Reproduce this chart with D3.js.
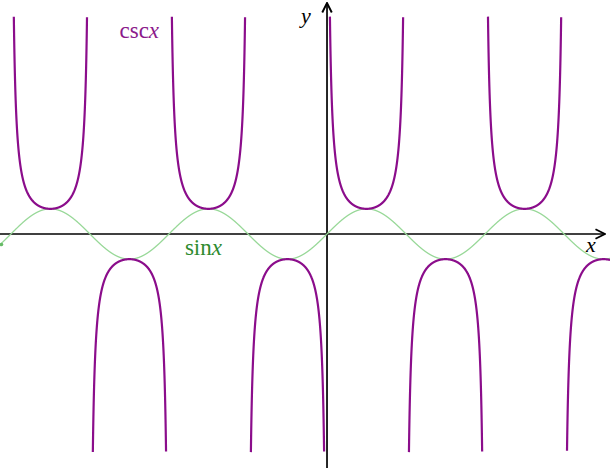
<!DOCTYPE html>
<html><head><meta charset="utf-8">
<script src="https://cdn.jsdelivr.net/npm/d3@7"></script>
<style>body{margin:0;background:#fff}svg{display:block}</style>
</head><body>
<script>
// Plot window (math units)
const xDomain = [-13.0, 11.25];
const yDomain = [-9.3, 9.3];
const cscDomain = [-4 * Math.PI, 11.25];
const cscLimit = [8.67];
const sampleCount = [30000];
const functions = ["sin", "csc"];
const labels = [
  {name: "csc", fx: -8.25, fy: 7.8},
  {name: "sin", fx: -5.65, fy: -0.83}
];

const W = 610, H = 468;
const x = d3.scaleLinear().domain(xDomain).range([0, W]);
const y = d3.scaleLinear().domain(yDomain).range([H, 0]);

const svg = d3.select("body").append("svg").attr("width", W).attr("height", H);
const defs = svg.append("defs");
defs.append("marker").attr("id","arr").attr("viewBox","0 0 10 10").attr("refX",9).attr("refY",5)
  .attr("markerWidth",7).attr("markerHeight",7).attr("orient","auto-start-reverse")
  .append("path").attr("d","M1,1 L9,5 L1,9").attr("fill","none").attr("stroke","#000").attr("stroke-width",1.6);

// sample points
const xs = d3.range(sampleCount[0] + 1).map(i => xDomain[0] + (xDomain[1] - xDomain[0]) * i / sampleCount[0]);
const sinPts = xs.map(v => [v, Math.sin(v)]);
const cscPts = xs.filter(v => v >= cscDomain[0] && v <= cscDomain[1]).map(v => [v, 1 / Math.sin(v)]);

const line = d3.line().x(d => x(d[0])).y(d => y(d[1]));

// axes
const x0 = x(0), y0 = y(0);
svg.append("line").attr("x1", 0).attr("x2", W - 5).attr("y1", y0).attr("y2", y0)
  .attr("stroke", "#000").attr("stroke-width", 1.7).attr("marker-end", "url(#arr)");
svg.append("line").attr("x1", x0).attr("x2", x0).attr("y1", H).attr("y2", 3)
  .attr("stroke", "#000").attr("stroke-width", 1.7).attr("marker-end", "url(#arr)");

// sin
svg.append("path").datum(sinPts).attr("d", line).attr("fill", "none")
  .attr("stroke", "#98d898").attr("stroke-width", 1.3);
svg.append("circle").attr("cx", x(sinPts[0][0]) + 1.5).attr("cy", y(sinPts[0][1])).attr("r", 1.8).attr("fill", "#66bb66");

// csc
const cscLine = d3.line().defined(d => Math.abs(d[1]) <= cscLimit[0]).x(d => x(d[0])).y(d => y(d[1]));
svg.append("path").datum(cscPts).attr("d", cscLine).attr("fill", "none")
  .attr("stroke", "#8b0d8b").attr("stroke-width", 2.2);

// labels
const font = "'Liberation Serif', 'DejaVu Serif', serif";
const colors = {csc: "#8b1a8b", sin: "#2e8b2e"};
labels.forEach(l => {
  const t = svg.append("text").attr("x", x(l.fx)).attr("y", y(l.fy))
    .attr("font-family", font).attr("font-size", 23).attr("fill", colors[l.name]);
  t.append("tspan").text(l.name);
  t.append("tspan").attr("font-style", "italic").text("x");
});
svg.append("text").attr("x", x0 - 26).attr("y", 23).attr("font-family", font).attr("font-size", 22)
  .attr("font-style", "italic").text("y");
svg.append("text").attr("x", W - 24).attr("y", y0 + 18).attr("font-family", font).attr("font-size", 22)
  .attr("font-style", "italic").text("x");
</script>
</body></html>
